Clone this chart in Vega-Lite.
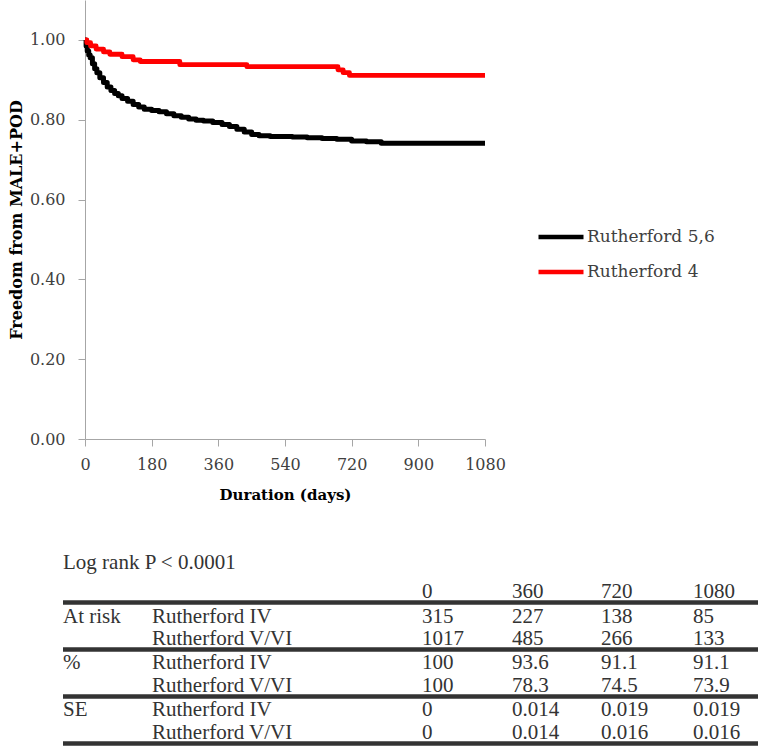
{
  "$schema": "https://vega.github.io/schema/vega-lite/v6.json",
  "background": "white",
  "padding": {"left": 8, "top": 0, "right": 0, "bottom": 0},
  "spacing": 44,
  "config": {"view": {"stroke": null}, "font": "DejaVu Serif"},
  "resolve": {"scale": {"x": "independent", "y": "independent"}},
  "vconcat": [
    {
      "width": 400,
      "height": 439,
      "data": {"values": [
        {"g": "Rutherford 5,6", "t": 0, "s": 1.0},
        {"g": "Rutherford 5,6", "t": 3, "s": 0.985},
        {"g": "Rutherford 5,6", "t": 6, "s": 0.972},
        {"g": "Rutherford 5,6", "t": 10, "s": 0.962},
        {"g": "Rutherford 5,6", "t": 14, "s": 0.955},
        {"g": "Rutherford 5,6", "t": 20, "s": 0.94},
        {"g": "Rutherford 5,6", "t": 26, "s": 0.928},
        {"g": "Rutherford 5,6", "t": 32, "s": 0.918},
        {"g": "Rutherford 5,6", "t": 40, "s": 0.905},
        {"g": "Rutherford 5,6", "t": 50, "s": 0.893},
        {"g": "Rutherford 5,6", "t": 60, "s": 0.882},
        {"g": "Rutherford 5,6", "t": 70, "s": 0.873},
        {"g": "Rutherford 5,6", "t": 80, "s": 0.866},
        {"g": "Rutherford 5,6", "t": 90, "s": 0.86},
        {"g": "Rutherford 5,6", "t": 100, "s": 0.853},
        {"g": "Rutherford 5,6", "t": 115, "s": 0.846},
        {"g": "Rutherford 5,6", "t": 130, "s": 0.838},
        {"g": "Rutherford 5,6", "t": 145, "s": 0.832},
        {"g": "Rutherford 5,6", "t": 160, "s": 0.826},
        {"g": "Rutherford 5,6", "t": 180, "s": 0.823},
        {"g": "Rutherford 5,6", "t": 200, "s": 0.82},
        {"g": "Rutherford 5,6", "t": 220, "s": 0.815},
        {"g": "Rutherford 5,6", "t": 240, "s": 0.81},
        {"g": "Rutherford 5,6", "t": 260, "s": 0.806},
        {"g": "Rutherford 5,6", "t": 280, "s": 0.802},
        {"g": "Rutherford 5,6", "t": 300, "s": 0.799},
        {"g": "Rutherford 5,6", "t": 320, "s": 0.797},
        {"g": "Rutherford 5,6", "t": 345, "s": 0.793},
        {"g": "Rutherford 5,6", "t": 370, "s": 0.788},
        {"g": "Rutherford 5,6", "t": 390, "s": 0.783},
        {"g": "Rutherford 5,6", "t": 410, "s": 0.776},
        {"g": "Rutherford 5,6", "t": 430, "s": 0.769},
        {"g": "Rutherford 5,6", "t": 450, "s": 0.763},
        {"g": "Rutherford 5,6", "t": 470, "s": 0.76},
        {"g": "Rutherford 5,6", "t": 500, "s": 0.758},
        {"g": "Rutherford 5,6", "t": 560, "s": 0.757},
        {"g": "Rutherford 5,6", "t": 600, "s": 0.755},
        {"g": "Rutherford 5,6", "t": 640, "s": 0.753},
        {"g": "Rutherford 5,6", "t": 680, "s": 0.751},
        {"g": "Rutherford 5,6", "t": 720, "s": 0.747},
        {"g": "Rutherford 5,6", "t": 760, "s": 0.745},
        {"g": "Rutherford 5,6", "t": 800, "s": 0.741},
        {"g": "Rutherford 5,6", "t": 1080, "s": 0.741},
        {"g": "Rutherford 4", "t": 0, "s": 1.0},
        {"g": "Rutherford 4", "t": 5, "s": 0.993},
        {"g": "Rutherford 4", "t": 15, "s": 0.985},
        {"g": "Rutherford 4", "t": 30, "s": 0.977},
        {"g": "Rutherford 4", "t": 50, "s": 0.97},
        {"g": "Rutherford 4", "t": 67, "s": 0.964},
        {"g": "Rutherford 4", "t": 100, "s": 0.958},
        {"g": "Rutherford 4", "t": 130, "s": 0.95},
        {"g": "Rutherford 4", "t": 149, "s": 0.946},
        {"g": "Rutherford 4", "t": 256, "s": 0.938},
        {"g": "Rutherford 4", "t": 437, "s": 0.933},
        {"g": "Rutherford 4", "t": 683, "s": 0.925},
        {"g": "Rutherford 4", "t": 697, "s": 0.918},
        {"g": "Rutherford 4", "t": 714, "s": 0.911},
        {"g": "Rutherford 4", "t": 1080, "s": 0.911}
      ]},
      "mark": {"type": "line", "interpolate": "step-after", "strokeCap": "butt", "strokeJoin": "round"},
      "encoding": {
        "x": {
          "field": "t", "type": "quantitative",
          "scale": {"domain": [0, 1080], "nice": false, "zero": false},
          "axis": {
            "values": [0, 180, 360, 540, 720, 900, 1080],
            "format": "d",
            "title": "Duration (days)",
            "grid": false,
            "domainColor": "#a6a6a6", "tickColor": "#a6a6a6", "tickSize": 7,
            "labelFont": "DejaVu Serif", "labelFontSize": 16, "labelColor": "#404040", "labelPadding": 10,
            "labelFlush": false,
            "titleFont": "DejaVu Serif", "titleFontSize": 15, "titleFontWeight": "bold", "titleColor": "#000000", "titlePadding": 15
          }
        },
        "y": {
          "field": "s", "type": "quantitative",
          "scale": {"domain": [0, 1.1], "nice": false},
          "axis": {
            "values": [0, 0.2, 0.4, 0.6, 0.8, 1.0],
            "format": ".2f",
            "title": "Freedom from MALE+POD",
            "grid": false,
            "domainColor": "#a6a6a6", "tickColor": "#a6a6a6", "tickSize": 7,
            "labelFont": "DejaVu Serif", "labelFontSize": 16, "labelColor": "#404040", "labelPadding": 13,
            "titleFont": "DejaVu Serif", "titleFontSize": 16, "titleFontWeight": "bold", "titleColor": "#000000", "titlePadding": 5
          }
        },
        "color": {
          "field": "g", "type": "nominal",
          "scale": {"domain": ["Rutherford 5,6", "Rutherford 4"], "range": ["#000000", "#ff0000"]},
          "legend": {
            "title": null, "orient": "none", "legendX": 451, "legendY": 212,
            "symbolType": "stroke", "symbolSize": 2025, "symbolStrokeWidth": 4.5,
            "labelFont": "DejaVu Serif", "labelFontSize": 17, "labelColor": "#404040", "labelOffset": 1,
            "rowPadding": 1
          }
        },
        "strokeWidth": {
          "field": "g", "type": "nominal",
          "scale": {"domain": ["Rutherford 5,6", "Rutherford 4"], "range": [5, 4.5]},
          "legend": null
        }
      }
    },
    {
      "width": 673,
      "height": 200,
      "layer": [
        {
          "data": {"values": [
            {"r": 1, "k": "thick"},
            {"r": 3, "k": "thin"},
            {"r": 5, "k": "thick"},
            {"r": 7, "k": "thick"}
          ]},
          "mark": {"type": "rule", "color": "#333333", "yOffset": 10.5},
          "encoding": {
            "x": {"datum": 0, "type": "quantitative", "scale": {"domain": [0, 1, 2, 3, 4, 5, 6], "range": [-22, 67, 337, 427, 516, 608, 673]}, "axis": null},
            "x2": {"datum": 6},
            "y": {"field": "r", "type": "quantitative", "scale": {"domain": [0, 1, 2, 3, 4, 5, 6, 7], "range": [17, 46, 71, 93, 117, 140, 164, 187]}, "axis": null},
            "strokeWidth": {"field": "k", "type": "nominal", "scale": {"domain": ["thick", "thin"], "range": [2, 1.3]}, "legend": null}
          }
        },
        {
          "data": {"values": [
            {"r": 0, "c": 0, "txt": "Log rank P < 0.0001"},
            {"r": 1, "c": 2, "txt": "0"},
            {"r": 1, "c": 3, "txt": "360"},
            {"r": 1, "c": 4, "txt": "720"},
            {"r": 1, "c": 5, "txt": "1080"},
            {"r": 2, "c": 0, "txt": "At risk"},
            {"r": 2, "c": 1, "txt": "Rutherford IV"},
            {"r": 2, "c": 2, "txt": "315"},
            {"r": 2, "c": 3, "txt": "227"},
            {"r": 2, "c": 4, "txt": "138"},
            {"r": 2, "c": 5, "txt": "85"},
            {"r": 3, "c": 1, "txt": "Rutherford V/VI"},
            {"r": 3, "c": 2, "txt": "1017"},
            {"r": 3, "c": 3, "txt": "485"},
            {"r": 3, "c": 4, "txt": "266"},
            {"r": 3, "c": 5, "txt": "133"},
            {"r": 4, "c": 0, "txt": "%"},
            {"r": 4, "c": 1, "txt": "Rutherford IV"},
            {"r": 4, "c": 2, "txt": "100"},
            {"r": 4, "c": 3, "txt": "93.6"},
            {"r": 4, "c": 4, "txt": "91.1"},
            {"r": 4, "c": 5, "txt": "91.1"},
            {"r": 5, "c": 1, "txt": "Rutherford V/VI"},
            {"r": 5, "c": 2, "txt": "100"},
            {"r": 5, "c": 3, "txt": "78.3"},
            {"r": 5, "c": 4, "txt": "74.5"},
            {"r": 5, "c": 5, "txt": "73.9"},
            {"r": 6, "c": 0, "txt": "SE"},
            {"r": 6, "c": 1, "txt": "Rutherford IV"},
            {"r": 6, "c": 2, "txt": "0"},
            {"r": 6, "c": 3, "txt": "0.014"},
            {"r": 6, "c": 4, "txt": "0.019"},
            {"r": 6, "c": 5, "txt": "0.019"},
            {"r": 7, "c": 1, "txt": "Rutherford V/VI"},
            {"r": 7, "c": 2, "txt": "0"},
            {"r": 7, "c": 3, "txt": "0.014"},
            {"r": 7, "c": 4, "txt": "0.016"},
            {"r": 7, "c": 5, "txt": "0.016"}
          ]},
          "mark": {"type": "text", "align": "left", "baseline": "middle", "font": "Liberation Serif", "fontSize": 21, "color": "#333333"},
          "encoding": {
            "x": {"field": "c", "type": "quantitative", "axis": null},
            "y": {"field": "r", "type": "quantitative", "axis": null},
            "text": {"field": "txt", "type": "nominal"}
          }
        }
      ]
    }
  ]
}
